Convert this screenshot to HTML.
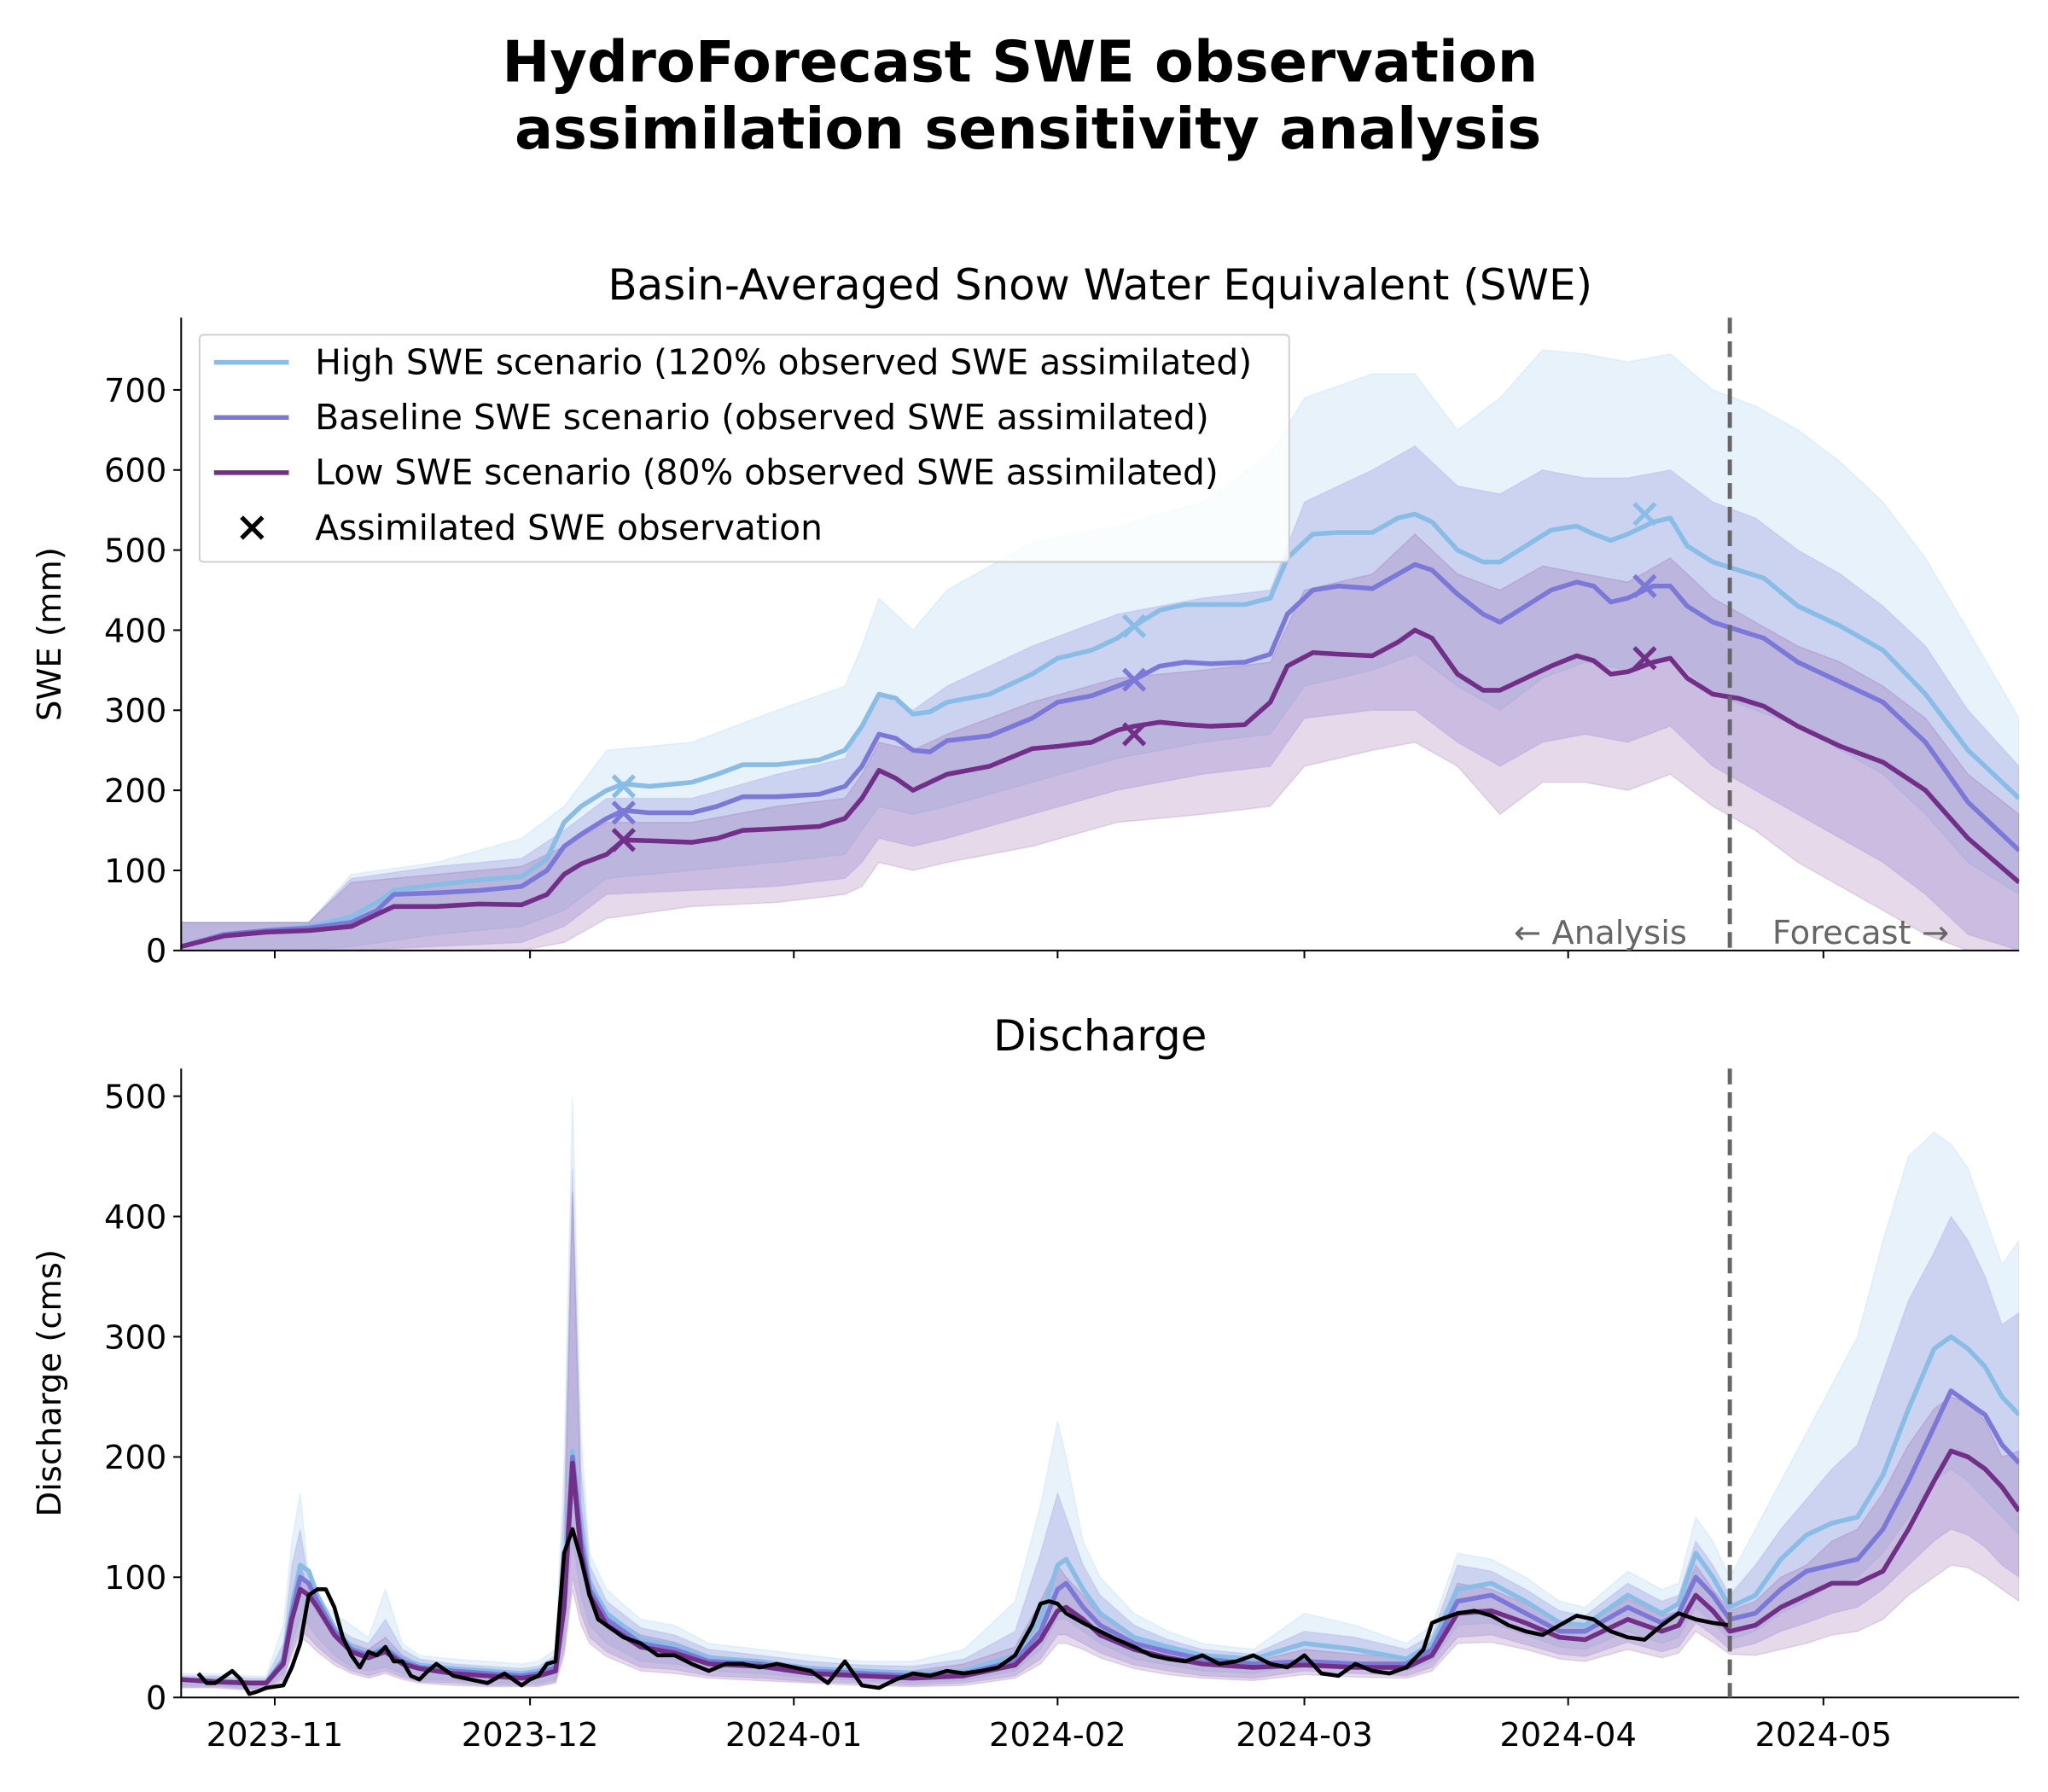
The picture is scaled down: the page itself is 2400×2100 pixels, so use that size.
<!DOCTYPE html>
<html><head><meta charset="utf-8"><style>
html,body{margin:0;padding:0;background:#fff}
svg{display:block;font-family:"DejaVu Sans","Liberation Sans",sans-serif}
</style></head><body>
<svg id="chart" width="2400" height="2100" viewBox="0 0 1560 1365" xmlns="http://www.w3.org/2000/svg">
<rect width="1560" height="1365" fill="#fff"/>
<text x="777" y="62" text-anchor="middle" font-size="43.5" font-weight="bold">HydroForecast SWE observation</text>
<text x="783" y="113" text-anchor="middle" font-size="43.5" font-weight="bold">assimilation sensitivity analysis</text>
<text x="838" y="228" text-anchor="middle" font-size="32.5">Basin-Averaged Snow Water Equivalent (SWE)</text>
<text x="838" y="800" text-anchor="middle" font-size="32.5">Discharge</text>
<g id="topPanel"></g>
<g id="botPanel"></g>
</svg>
<script>
// ---- SWE data (days since 2023-10-21) ----
const sweDays=[0,5,10,15,20,23,25,30,35,40,43,45,47,50,52,55,60,63,66,70,75,78,80,82,84,86,88,90,95,100,103,107,110,112,115,118,121,125,128,130,133,136,140,143,145,147,150,153,155,158,161,164,166,168,170,173,175,177,180,183,186,190,195,200,205,210,216];
const sweBase=[5,20,25,28,35,50,70,72,75,80,100,130,145,165,175,172,172,180,192,192,195,205,230,270,265,250,248,262,268,290,310,318,330,338,355,360,358,360,370,420,450,455,452,470,482,475,445,420,410,430,450,460,455,435,440,455,455,430,410,400,390,360,335,310,260,185,125];
const sweHigh=[5,20,25,30,42,60,75,82,88,92,115,160,180,200,208,205,210,220,232,232,238,250,280,320,315,295,298,310,320,345,365,375,390,405,425,432,432,432,440,490,520,522,522,540,545,535,500,485,485,505,525,530,520,512,520,535,540,505,485,475,465,430,405,375,320,250,190];
const sweLow=[5,18,23,25,30,45,55,55,58,57,70,95,108,120,138,137,135,140,150,152,155,165,190,225,215,200,210,220,230,252,255,260,275,280,285,282,280,282,310,355,372,370,368,385,400,390,345,325,325,340,355,368,362,345,348,360,365,340,320,315,305,280,255,235,200,140,85];
const bandDays=[0,10,15,20,30,40,45,50,60,70,78,80,82,86,90,100,110,120,128,132,140,145,150,155,160,165,170,175,180,185,190,195,200,205,210,216];
const highUp=[35,35,35,95,110,140,180,250,260,300,330,380,440,400,450,510,530,560,620,690,720,720,650,690,750,745,735,745,700,680,650,610,560,490,400,290];
const highLo=[0,0,0,5,20,30,50,90,100,110,120,150,180,170,180,210,240,260,270,330,350,370,330,300,340,360,350,370,320,300,280,250,220,170,110,70];
const baseUp=[35,35,35,90,105,115,150,190,190,220,240,280,320,300,330,380,420,440,450,560,600,630,580,570,600,590,590,600,560,540,500,470,430,380,300,230];
const baseLo=[0,0,0,0,5,10,30,70,75,80,90,110,140,130,140,170,200,220,230,290,300,300,260,230,260,270,260,280,230,200,170,140,110,70,20,0];
const lowUp=[35,35,35,85,95,105,130,160,160,180,190,220,260,250,270,310,340,350,360,450,470,520,470,450,480,470,460,490,440,410,380,360,330,290,220,170];
const lowLo=[0,0,0,0,0,0,10,40,55,60,70,80,110,100,110,130,160,170,180,230,250,260,230,170,210,210,200,220,180,150,110,80,50,20,0,0];
const obsDaysSwe=[52,112,172];
const obsHigh=[205,405,545];
const obsBase=[172,338,455];
const obsLow=[138,270,365];
const sweTicks=[0,100,200,300,400,500,600,700];
// ---- Discharge data ----
const qDays=[0,4,8,10,12,13,14,15,16,18,20,22,24,26,28,32,36,40,42,44,45,46,47,48,50,54,58,62,68,74,80,86,92,98,101,103,104,106,108,112,116,120,126,132,138,144,147,150,154,158,162,165,170,174,176,178,180,182,185,188,191,194,197,200,203,206,208,210,212,214,216];
const qBase=[15,13,12,12,30,70,100,95,80,55,40,35,40,30,25,22,20,18,20,25,80,200,130,90,65,45,40,30,28,22,20,18,20,30,55,90,95,75,60,45,38,32,28,30,28,28,40,80,85,70,55,55,75,62,70,100,85,65,70,90,105,110,115,140,180,225,255,245,235,210,195];
const qHigh=[15,13,12,12,32,75,110,105,85,58,42,37,42,32,27,24,22,20,22,28,90,205,140,95,70,48,43,33,30,24,22,20,22,35,65,110,115,90,70,50,42,35,32,45,40,32,45,90,95,80,62,60,85,70,78,120,100,75,85,115,135,145,150,185,240,290,300,290,275,250,235];
const qLow=[15,13,12,12,28,65,90,85,75,52,38,33,38,28,24,20,18,16,18,22,75,195,120,85,60,42,37,28,26,20,18,16,18,27,48,72,75,65,52,40,33,28,25,27,25,25,35,70,72,62,50,48,65,55,60,85,72,55,60,75,85,95,95,105,140,180,205,200,190,175,155];
const qHighUp=[20,20,18,18,60,130,170,100,80,70,60,50,90,45,35,32,30,28,30,40,200,500,220,120,90,65,60,45,40,35,30,30,40,80,160,230,200,130,100,70,55,45,40,70,60,45,60,120,115,100,80,75,105,90,95,150,130,100,140,180,220,260,300,380,450,470,460,440,400,360,380];
const qHighLo=[10,10,8,8,20,45,65,60,50,35,25,22,25,20,15,14,12,12,12,15,50,130,85,60,45,30,28,22,20,16,14,12,14,22,40,65,65,55,45,32,27,22,20,28,25,22,30,60,62,52,42,40,55,45,50,75,62,48,55,70,80,95,100,120,150,180,190,180,165,150,135];
const qBaseUp=[18,18,16,16,45,110,140,95,75,60,50,45,65,40,32,28,26,24,26,35,160,440,190,110,80,58,52,40,35,30,27,26,32,55,120,170,150,110,85,60,48,40,36,55,50,40,52,110,105,90,72,68,95,80,85,130,110,85,110,140,165,190,210,270,330,370,400,380,350,310,320];
const qBaseLo=[9,9,7,7,16,38,55,50,42,30,22,18,22,17,13,12,10,10,10,13,40,100,70,50,38,25,23,18,16,13,12,10,12,18,32,52,52,45,37,27,22,18,16,22,20,18,25,50,52,44,36,34,46,38,42,62,52,40,45,55,62,70,75,90,110,130,140,135,125,110,100];
const qLowUp=[16,16,14,14,35,85,110,90,70,55,45,40,50,35,28,25,22,20,22,30,120,420,160,100,70,52,46,35,30,26,23,22,28,42,80,110,100,85,68,50,40,34,30,40,36,33,45,95,90,78,64,60,82,68,72,110,90,72,80,100,110,130,140,170,210,240,250,245,230,200,205];
const qLowLo=[8,8,6,6,14,35,50,45,38,27,20,16,20,15,12,10,9,9,9,12,35,90,60,45,34,22,20,16,14,12,10,9,10,16,28,45,45,40,33,24,19,16,14,19,17,16,22,45,46,40,32,30,40,33,37,55,46,36,35,40,45,52,55,65,85,100,110,108,100,90,80];
const obsDays=[2,3,4,6,7,8,9,10,12,13,14,15,16,17,18,19,20,21,22,23,24,25,26,27,28,29,30,32,34,36,38,40,41,42,43,44,45,46,47,48,49,50,52,54,56,58,60,62,64,66,68,70,72,74,76,78,80,82,84,86,88,90,92,94,96,98,100,101,102,103,104,106,108,110,112,114,116,118,120,122,124,126,128,130,132,134,136,138,140,142,144,146,147,148,150,152,154,156,158,160,162,164,166,168,170,172,174,176,178,180,182];
const obsQ=[20,12,12,22,15,3,5,8,10,25,45,85,90,90,75,50,35,25,38,35,42,30,30,18,15,22,28,18,15,12,20,10,15,18,28,30,120,140,115,85,65,60,50,45,35,35,28,22,28,28,25,28,25,22,12,30,10,8,15,20,18,22,20,22,25,35,60,78,80,78,70,62,55,48,42,35,32,30,35,28,30,35,28,25,35,20,18,28,22,20,25,40,62,65,70,72,68,60,55,52,60,68,65,55,50,48,60,70,65,62,60];
const qTicks=[0,100,200,300,400,500];
const monthLabels=["2023-11","2023-12","2024-01","2024-02","2024-03","2024-04","2024-05"];
const monthDays=[11,41,72,103,132,163,193];
const splitDay=182;

const NS="http://www.w3.org/2000/svg";
const X0=138,X1=1538,D0=0,D1=216;
function xs(d){return X0+(d-D0)/(D1-D0)*(X1-X0);}
function ySwe(v){return 724-v*(724-297)/700;}
function yQ(v){return 1293-v*0.916;}
function mk(tag,attrs,parent){const e=document.createElementNS(NS,tag);for(const k in attrs)e.setAttribute(k,attrs[k]);parent.appendChild(e);return e;}
function linePath(days,vals,yf){return days.map((d,i)=>(i?'L':'M')+xs(d).toFixed(1)+','+yf(vals[i]).toFixed(1)).join('');}
function bandPath(days,up,lo,yf){let p=days.map((d,i)=>(i?'L':'M')+xs(d).toFixed(1)+','+yf(up[i]).toFixed(1)).join('');for(let i=days.length-1;i>=0;i--)p+='L'+xs(days[i]).toFixed(1)+','+yf(lo[i]).toFixed(1);return p+'Z';}
const cH='#89bde6',cB='#7b78d8',cL='#722f88';
const topG=document.getElementById('topPanel'),botG=document.getElementById('botPanel');
const TICKFS=25;
const LW=3.6;

function panel(g,yf,ytop,ybot,ticks,ylabel,showX){
  const cp=mk('clipPath',{id:g.id+'clip'},g);
  mk('rect',{x:X0,y:ytop-30,width:X1-X0,height:ybot-ytop+30},cp);
  ticks.forEach(t=>{
    const tk=mk('line',{x1:X0-6,x2:X0,y1:yf(t),y2:yf(t),stroke:'#000','stroke-width':1.3},g);
    
    
    const tl=mk('text',{x:X0-11,y:yf(t)+9,'text-anchor':'end','font-size':TICKFS},g);
    tl.textContent=t;
    
    
  });
  monthDays.forEach((d,i)=>{
    const tk=mk('line',{x1:xs(d),x2:xs(d),y1:ybot,y2:ybot+6,stroke:'#000','stroke-width':1.3},g);
    
    
    if(showX){
      const tl=mk('text',{x:xs(d),y:ybot+37,'text-anchor':'middle','font-size':TICKFS},g);
      tl.textContent=monthLabels[i];
      
      
    }
  });
  const yl=mk('text',{transform:`translate(46,${(ytop+ybot)/2}) rotate(-90)`,'text-anchor':'middle','font-size':TICKFS},g);
  yl.textContent=ylabel;
  
  
}
function axes(g,ytop,ybot){
  const a=mk('line',{x1:X0,x2:X0,y1:ytop,y2:ybot,stroke:'#000','stroke-width':1.3},g);
  
  
  const b=mk('line',{x1:X0,x2:X1,y1:ybot,y2:ybot,stroke:'#000','stroke-width':1.3},g);
  
  
  const v=mk('line',{x1:xs(splitDay),x2:xs(splitDay),y1:ytop,y2:ybot,stroke:'#666','stroke-width':3.2,'stroke-dasharray':'12,6'},g);
  
  
}
// ----- Top panel -----
panel(topG,ySwe,242,724,sweTicks,'SWE (mm)',false);
const tg=mk('g',{'clip-path':'url(#topPanelclip)'},topG);
[[highUp,highLo,cH,0.2,'high-swe-band'],[baseUp,baseLo,cB,0.25,'baseline-swe-band'],[lowUp,lowLo,cL,0.18,'low-swe-band']].forEach(b=>{
  const p=mk('path',{d:bandPath(bandDays,b[0],b[1],ySwe),fill:b[2],'fill-opacity':b[3],stroke:b[2],'stroke-opacity':0.15},tg);
  
  
});
[[sweHigh,cH,'high-swe-line'],[sweBase,cB,'baseline-swe-line'],[sweLow,cL,'low-swe-line']].forEach(s=>{
  const p=mk('path',{d:linePath(sweDays,s[0],ySwe),fill:'none',stroke:s[1],'stroke-width':LW,'stroke-linejoin':'round'},tg);
  
  
});
[[obsHigh,cH],[obsBase,cB],[obsLow,cL]].forEach(s=>{
  obsDaysSwe.forEach((d,i)=>{
    const cx=xs(d),cy=ySwe(s[0][i]),r=8;
    const m=mk('path',{d:`M${cx-r},${cy-r}L${cx+r},${cy+r}M${cx-r},${cy+r}L${cx+r},${cy-r}`,stroke:s[1],'stroke-width':3.4},tg);
    
    
  });
});
axes(topG,242,724);
const an1=mk('text',{x:1285,y:719,'text-anchor':'end','font-size':TICKFS,fill:'#666'},topG);
an1.textContent='← Analysis';


const an2=mk('text',{x:1350,y:719,'font-size':TICKFS,fill:'#666'},topG);
an2.textContent='Forecast →';


// legend
const lg=mk('g',{},topG);


mk('rect',{x:152,y:255,width:830,height:173,fill:'#fff','fill-opacity':0.8,stroke:'#ccc','stroke-width':1.2,rx:3},lg);
const legItems=[[cH,'High SWE scenario (120% observed SWE assimilated)'],[cB,'Baseline SWE scenario (observed SWE assimilated)'],[cL,'Low SWE scenario (80% observed SWE assimilated)'],['#000','Assimilated SWE observation']];
legItems.forEach((it,i)=>{
  const y=276+i*42;
  const e=mk('g',{},lg);
  
  
  if(i<3) mk('line',{x1:163,x2:220,y1:y,y2:y,stroke:it[0],'stroke-width':LW},e);
  else mk('path',{d:`M184,${y-8}L200,${y+8}M184,${y+8}L200,${y-8}`,stroke:'#000','stroke-width':3.4},e);
  const t=mk('text',{x:240,y:y+9,'font-size':26.5},e);
  t.textContent=it[1];
});
// ----- Bottom panel -----
panel(botG,yQ,814,1293,qTicks,'Discharge (cms)',true);
const bg=mk('g',{'clip-path':'url(#botPanelclip)'},botG);
[[qHighUp,qHighLo,cH,0.2,'high-discharge-band'],[qBaseUp,qBaseLo,cB,0.25,'baseline-discharge-band'],[qLowUp,qLowLo,cL,0.18,'low-discharge-band']].forEach(b=>{
  const p=mk('path',{d:bandPath(qDays,b[0],b[1],yQ),fill:b[2],'fill-opacity':b[3],stroke:b[2],'stroke-opacity':0.15},bg);
  
  
});
[[qHigh,cH,'high-discharge-line'],[qBase,cB,'baseline-discharge-line'],[qLow,cL,'low-discharge-line']].forEach(s=>{
  const p=mk('path',{d:linePath(qDays,s[0],yQ),fill:'none',stroke:s[1],'stroke-width':LW,'stroke-linejoin':'round'},bg);
  
  
});
const ob=mk('path',{d:linePath(obsDays,obsQ,yQ),fill:'none',stroke:'#000','stroke-width':3,'stroke-linejoin':'round'},bg);


axes(botG,814,1293);
</script>
</body></html>
